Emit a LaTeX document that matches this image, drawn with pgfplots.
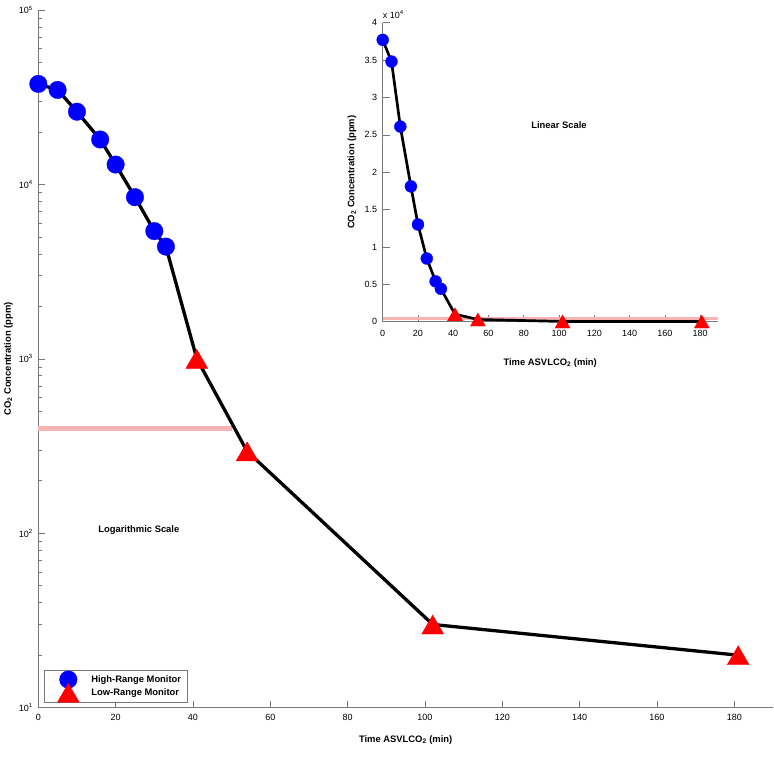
\documentclass[border=0pt]{standalone}
\usepackage{fontspec}
\setmainfont{Liberation Sans}
\usepackage{pgfplots}
\pgfplotsset{compat=1.18}
\definecolor{bandpink}{RGB}{248,180,180}
\definecolor{axgray}{RGB}{120,120,120}
\begin{document}
\begin{tikzpicture}
\useasboundingbox (-38.3pt,-54.3pt) rectangle (735.7pt,707.7pt);
\pgfplotsset{
  /pgf/number format/assume math mode=true,
  every axis/.append style={
    scale only axis, clip=false,
    axis x line*=bottom, axis y line*=left,
    axis line style={axgray, line width=0.8pt},
    every tick/.style={axgray, line width=0.6pt},
    tick align=inside,
    major tick length=7pt, minor tick length=3.5pt,
    tick label style={font=\fontsize{9}{10}\selectfont, black},
    xticklabel style={yshift=-2.5pt},
    yticklabel style={xshift=-2pt},
    label style={font=\bfseries\fontsize{9.4}{11}\selectfont},
    scaled ticks=false,
  }
}
% ---------------- main (log) axis ----------------
\begin{axis}[name=main, at={(0pt,0pt)}, anchor=south west,
  width=734.7pt, height=697.7pt,
  ymode=log, xmin=0, xmax=190, ymin=10, ymax=100000,
  xtick={0,20,...,180},
  ytick={10,100,1000,10000,100000},
  yticklabels={10\textsuperscript{1},10\textsuperscript{2},10\textsuperscript{3},10\textsuperscript{4},10\textsuperscript{5}},
  xlabel={Time ASVLCO\textsubscript{2} (min)},
  ylabel={CO\textsubscript{2} Concentration (ppm)},
  xlabel style={at={(axis description cs:0.5,-0.0459)}, anchor=center},
  ylabel style={at={(axis description cs:-0.0408,0.5)}, anchor=center},
  legend style={at={(axis description cs:0.0078,0.0077)}, anchor=south west,
    draw=axgray, line width=0.6pt, fill=white,
    font=\bfseries\fontsize{9.4}{11}\selectfont,
    inner xsep=4pt, inner ysep=3pt, row sep=1pt,
    cells={anchor=west}},
  legend image code/.code={\path[draw=none,fill=none] (0pt,-2pt) rectangle (41pt,2pt);
     \draw[#1,overlay] plot coordinates {(20pt,0pt)};},
]
\addplot[draw=bandpink, line width=4.5pt, forget plot] coordinates {(0,400) (50,400)};
\addplot[black, line width=3.3pt, forget plot] coordinates {
(0,37700) (5,34800) (10,26100) (16,18100) (20,13000) (25,8450) (30,5400) (33,4400)
(41,1000) (54,295) (102,30) (181,20)};
\addplot[only marks, mark=*, mark size=8.8pt, mark options={draw=blue, fill=blue, line width=0.3pt}] coordinates {
(0,37700) (5,34800) (10,26100) (16,18100) (20,13000) (25,8450) (30,5400) (33,4400)};
\addlegendentry{High-Range Monitor}
\addplot[only marks, mark=triangle*, mark size=12.7pt, mark options={draw=red, fill=red, line width=0.3pt, yshift=-3.2pt}] coordinates {
(41,1000) (54,295) (102,30) (181,20)};
\addlegendentry{Low-Range Monitor}
\node[font=\bfseries\fontsize{9.4}{11}\selectfont] at (axis cs:26,104) {Logarithmic Scale};
\end{axis}
% ---------------- inset (linear) axis ----------------
\begin{axis}[name=inset, at={(344.4pt,386pt)}, anchor=south west,
  width=335pt, height=299pt,
  xmin=0, xmax=190, ymin=0, ymax=40000,
  xtick={0,20,...,180},
  ytick={0,5000,10000,15000,20000,25000,30000,35000,40000},
  yticklabels={0,0.5,1,1.5,2,2.5,3,3.5,4},
  xticklabel style={yshift=-2pt},
  xlabel={Time ASVLCO\textsubscript{2} (min)},
  ylabel={CO\textsubscript{2} Concentration (ppm)},
  xlabel style={at={(axis description cs:0.5,-0.138)}, anchor=center},
  ylabel style={at={(axis description cs:-0.0916,0.5)}, anchor=center},
]
\addplot[draw=bandpink, line width=3.5pt] coordinates {(0,400) (190,400)};
\addplot[black, line width=2.7pt] coordinates {
(0,37700) (5,34800) (10,26100) (16,18100) (20,13000) (25,8450) (30,5400) (33,4400)
(41,1000) (54,295) (102,30) (181,20)};
\addplot[only marks, mark=*, mark size=6pt, mark options={draw=blue, fill=blue, line width=0.3pt}] coordinates {
(0,37700) (5,34800) (10,26100) (16,18100) (20,13000) (25,8450) (30,5400) (33,4400)};
\addplot[only marks, mark=triangle*, mark size=8.7pt, mark options={draw=red, fill=red, line width=0.3pt, yshift=-2.2pt}] coordinates {
(41,1000) (54,295) (102,30) (181,20)};
\node[font=\bfseries\fontsize{9.4}{11}\selectfont] at (axis cs:100,26300) {Linear Scale};
\node[anchor=south west, inner sep=0pt, font=\fontsize{9}{10}\selectfont] at ([yshift=4pt]rel axis cs:0,1) {x 10\textsuperscript{4}};
\end{axis}
\end{tikzpicture}
\end{document}
